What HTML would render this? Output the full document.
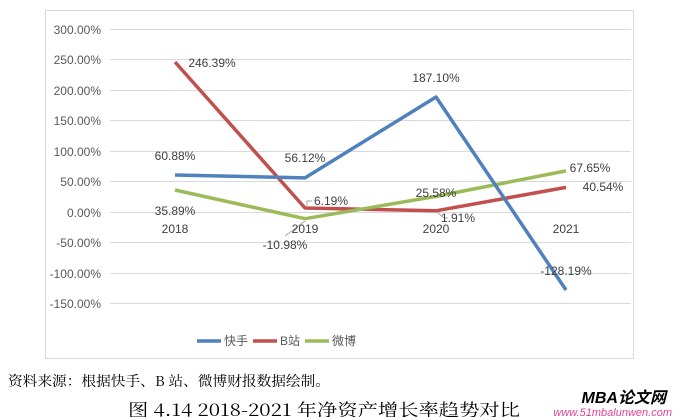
<!DOCTYPE html>
<html><head><meta charset="utf-8"><style>
body{margin:0;width:676px;height:417px;background:#fff;overflow:hidden;position:relative;font-family:"Liberation Sans","Noto Sans CJK SC",sans-serif}
svg{position:absolute;left:0;top:0}
</style></head><body>
<svg width="676" height="417" viewBox="0 0 676 417">
<rect x="45.5" y="10.5" width="588" height="348" fill="#fff" stroke="#d9d9d9"/>
<g stroke="#d9d9d9" stroke-width="1">
<line x1="110" x2="631" y1="29.5" y2="29.5"/>
<line x1="110" x2="631" y1="59.5" y2="59.5"/>
<line x1="110" x2="631" y1="90.5" y2="90.5"/>
<line x1="110" x2="631" y1="120.5" y2="120.5"/>
<line x1="110" x2="631" y1="151.5" y2="151.5"/>
<line x1="110" x2="631" y1="181.5" y2="181.5"/>
<line x1="110" x2="631" y1="212.5" y2="212.5"/>
<line x1="110" x2="631" y1="242.5" y2="242.5"/>
<line x1="110" x2="631" y1="273.5" y2="273.5"/>
<line x1="110" x2="631" y1="303.5" y2="303.5"/>
</g>
<g font-size="12" fill="#595959" text-anchor="end">
<text x="101" y="34">300.00%</text>
<text x="101" y="64">250.00%</text>
<text x="101" y="95">200.00%</text>
<text x="101" y="125">150.00%</text>
<text x="101" y="156">100.00%</text>
<text x="101" y="186">50.00%</text>
<text x="101" y="217">0.00%</text>
<text x="101" y="247">-50.00%</text>
<text x="101" y="278">-100.00%</text>
<text x="101" y="308">-150.00%</text>
</g>
<g fill="none" stroke-width="3.5" stroke-linejoin="round">
<polyline stroke="#c0504d" points="175,62 305,208 436,210.8 566,187.4"/>
<polyline stroke="#9bbb59" points="175,190 305,218.7 436,196.4 566,170.9"/>
<polyline stroke="#4f81bd" points="175,175 305,177.9 436,97 566,290"/>
</g>
<g stroke="#a6a6a6" fill="none" stroke-width="1">
<polyline points="307,206 307,201 312,201"/>
<polyline points="305,221 285,236"/>
<polyline points="437,212 444,218 448,218"/>
</g>
<g font-size="12" fill="#404040" text-anchor="middle">
<text x="175" y="233">2018</text>
<text x="305" y="233">2019</text>
<text x="436" y="233">2020</text>
<text x="566" y="233">2021</text>
<text x="175" y="160">60.88%</text>
<text x="305" y="162">56.12%</text>
<text x="436" y="82">187.10%</text>
<text x="566" y="275">-128.19%</text>
<text x="212" y="67">246.39%</text>
<text x="331" y="205">6.19%</text>
<text x="458" y="222">1.91%</text>
<text x="603" y="191">40.54%</text>
<text x="175" y="215">35.89%</text>
<text x="285" y="249">-10.98%</text>
<text x="436" y="197">25.58%</text>
<text x="590" y="172">67.65%</text>
</g>
<g stroke-width="3.5">
<line x1="197" x2="221" y1="341" y2="341" stroke="#4f81bd"/>
<line x1="253" x2="277" y1="341" y2="341" stroke="#c0504d"/>
<line x1="305" x2="329" y1="341" y2="341" stroke="#9bbb59"/>
</g>
<g font-size="12" fill="#595959">
<text x="224" y="345">快手</text>
<text x="280" y="345">B站</text>
<text x="332" y="345">微博</text>
</g>
<text x="8" y="386" font-size="14" fill="#000" font-family="'Noto Serif CJK SC',serif" textLength="322" lengthAdjust="spacingAndGlyphs">资料来源：根据快手、B 站、微博财报数据绘制。</text>
<text x="128" y="416" font-size="17" fill="#000" font-family="'Noto Serif CJK SC',serif" textLength="392" lengthAdjust="spacingAndGlyphs">图 4.14  2018-2021 年净资产增长率趋势对比</text>
<text x="666" y="403" font-size="16" font-weight="bold" font-style="italic" fill="#000" text-anchor="end">MBA论文网</text>
<text x="672" y="416" font-size="11" font-style="italic" fill="#e0409a" text-anchor="end">www.51mbalunwen.com</text>
</svg>
</body></html>
